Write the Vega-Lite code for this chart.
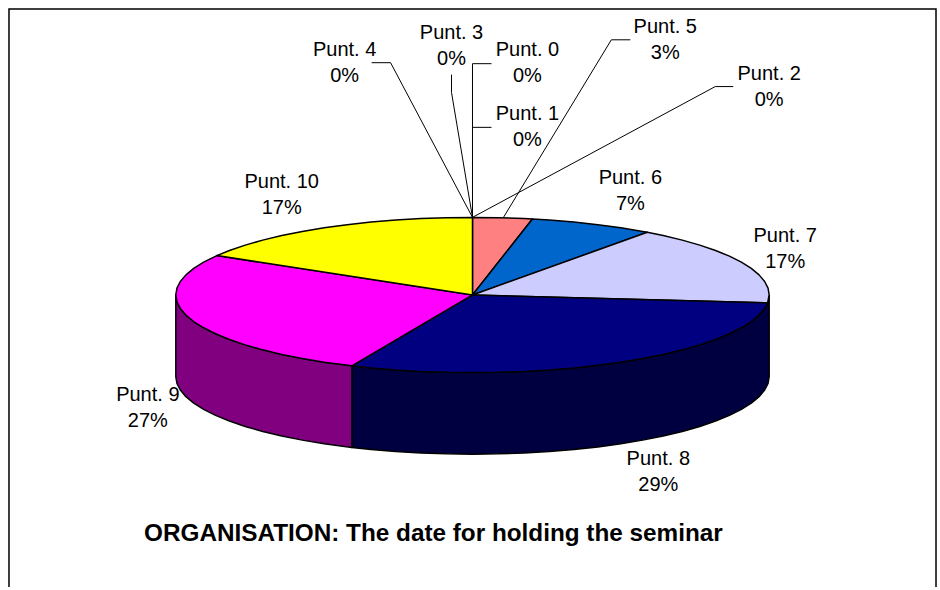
{"$schema":"https://vega.github.io/schema/vega-lite/v6.json","width":940,"height":590,"autosize":{"type":"fit","contains":"padding"},"padding":0,"background":"white","view":{"stroke":null},
"datasets":{
"shape":[
{"part":"Punt. 8 side","i":1,"x":1,"y":0},{"part":"Punt. 8 side","i":2,"x":0.9962,"y":-0.0229},{"part":"Punt. 8 side","i":3,"x":0.9848,"y":-0.0456},{"part":"Punt. 8 side","i":4,"x":0.9659,"y":-0.068},{"part":"Punt. 8 side","i":5,"x":0.9397,"y":-0.0898},{"part":"Punt. 8 side","i":6,"x":0.9063,"y":-0.111},{"part":"Punt. 8 side","i":7,"x":0.866,"y":-0.1313},{"part":"Punt. 8 side","i":8,"x":0.8192,"y":-0.1506},{"part":"Punt. 8 side","i":9,"x":0.766,"y":-0.1688},{"part":"Punt. 8 side","i":10,"x":0.7071,"y":-0.1857},{"part":"Punt. 8 side","i":11,"x":0.6428,"y":-0.2012},{"part":"Punt. 8 side","i":12,"x":0.5736,"y":-0.2151},{"part":"Punt. 8 side","i":13,"x":0.5,"y":-0.2274},{"part":"Punt. 8 side","i":14,"x":0.4226,"y":-0.238},{"part":"Punt. 8 side","i":15,"x":0.342,"y":-0.2468},{"part":"Punt. 8 side","i":16,"x":0.2588,"y":-0.2537},{"part":"Punt. 8 side","i":17,"x":0.1736,"y":-0.2586},{"part":"Punt. 8 side","i":18,"x":0.0872,"y":-0.2616},{"part":"Punt. 8 side","i":19,"x":0,"y":-0.2626},{"part":"Punt. 8 side","i":20,"x":-0.0872,"y":-0.2616},{"part":"Punt. 8 side","i":21,"x":-0.1736,"y":-0.2586},{"part":"Punt. 8 side","i":22,"x":-0.2588,"y":-0.2537},{"part":"Punt. 8 side","i":23,"x":-0.342,"y":-0.2468},{"part":"Punt. 8 side","i":24,"x":-0.4067,"y":-0.2399},
{"part":"Punt. 8 side","i":25,"x":-0.4067,"y":-0.516},{"part":"Punt. 8 side","i":26,"x":-0.342,"y":-0.5229},{"part":"Punt. 8 side","i":27,"x":-0.2588,"y":-0.5298},{"part":"Punt. 8 side","i":28,"x":-0.1736,"y":-0.5347},{"part":"Punt. 8 side","i":29,"x":-0.0872,"y":-0.5377},{"part":"Punt. 8 side","i":30,"x":0,"y":-0.5387},{"part":"Punt. 8 side","i":31,"x":0.0872,"y":-0.5377},{"part":"Punt. 8 side","i":32,"x":0.1736,"y":-0.5347},{"part":"Punt. 8 side","i":33,"x":0.2588,"y":-0.5298},{"part":"Punt. 8 side","i":34,"x":0.342,"y":-0.5229},{"part":"Punt. 8 side","i":35,"x":0.4226,"y":-0.5141},{"part":"Punt. 8 side","i":36,"x":0.5,"y":-0.5035},{"part":"Punt. 8 side","i":37,"x":0.5736,"y":-0.4912},{"part":"Punt. 8 side","i":38,"x":0.6428,"y":-0.4773},{"part":"Punt. 8 side","i":39,"x":0.7071,"y":-0.4618},{"part":"Punt. 8 side","i":40,"x":0.766,"y":-0.4449},{"part":"Punt. 8 side","i":41,"x":0.8192,"y":-0.4267},{"part":"Punt. 8 side","i":42,"x":0.866,"y":-0.4074},{"part":"Punt. 8 side","i":43,"x":0.9063,"y":-0.3871},{"part":"Punt. 8 side","i":44,"x":0.9397,"y":-0.3659},{"part":"Punt. 8 side","i":45,"x":0.9659,"y":-0.3441},{"part":"Punt. 8 side","i":46,"x":0.9848,"y":-0.3217},{"part":"Punt. 8 side","i":47,"x":0.9962,"y":-0.299},{"part":"Punt. 8 side","i":48,"x":1,"y":-0.2761},{"part":"Punt. 8 side","i":49,"x":1,"y":0},
{"part":"Punt. 9 side","i":1,"x":-0.4067,"y":-0.2399},{"part":"Punt. 9 side","i":2,"x":-0.5,"y":-0.2274},{"part":"Punt. 9 side","i":3,"x":-0.5736,"y":-0.2151},{"part":"Punt. 9 side","i":4,"x":-0.6428,"y":-0.2012},{"part":"Punt. 9 side","i":5,"x":-0.7071,"y":-0.1857},{"part":"Punt. 9 side","i":6,"x":-0.766,"y":-0.1688},{"part":"Punt. 9 side","i":7,"x":-0.8192,"y":-0.1506},{"part":"Punt. 9 side","i":8,"x":-0.866,"y":-0.1313},{"part":"Punt. 9 side","i":9,"x":-0.9063,"y":-0.111},{"part":"Punt. 9 side","i":10,"x":-0.9397,"y":-0.0898},{"part":"Punt. 9 side","i":11,"x":-0.9659,"y":-0.068},{"part":"Punt. 9 side","i":12,"x":-0.9848,"y":-0.0456},{"part":"Punt. 9 side","i":13,"x":-0.9962,"y":-0.0229},{"part":"Punt. 9 side","i":14,"x":-1,"y":0},
{"part":"Punt. 9 side","i":15,"x":-1,"y":-0.2761},{"part":"Punt. 9 side","i":16,"x":-0.9962,"y":-0.299},{"part":"Punt. 9 side","i":17,"x":-0.9848,"y":-0.3217},{"part":"Punt. 9 side","i":18,"x":-0.9659,"y":-0.3441},{"part":"Punt. 9 side","i":19,"x":-0.9397,"y":-0.3659},{"part":"Punt. 9 side","i":20,"x":-0.9063,"y":-0.3871},{"part":"Punt. 9 side","i":21,"x":-0.866,"y":-0.4074},{"part":"Punt. 9 side","i":22,"x":-0.8192,"y":-0.4267},{"part":"Punt. 9 side","i":23,"x":-0.766,"y":-0.4449},{"part":"Punt. 9 side","i":24,"x":-0.7071,"y":-0.4618},{"part":"Punt. 9 side","i":25,"x":-0.6428,"y":-0.4773},{"part":"Punt. 9 side","i":26,"x":-0.5736,"y":-0.4912},{"part":"Punt. 9 side","i":27,"x":-0.5,"y":-0.5035},{"part":"Punt. 9 side","i":28,"x":-0.4067,"y":-0.516},{"part":"Punt. 9 side","i":29,"x":-0.4067,"y":-0.2399},
{"part":"Punt. 5","i":1,"x":0,"y":0},{"part":"Punt. 5","i":2,"x":0,"y":0.2626},{"part":"Punt. 5","i":3,"x":0.0872,"y":0.2616},{"part":"Punt. 5","i":4,"x":0.1736,"y":0.2586},{"part":"Punt. 5","i":5,"x":0.2019,"y":0.2572},{"part":"Punt. 5","i":6,"x":0,"y":0},
{"part":"Punt. 6","i":1,"x":0,"y":0},{"part":"Punt. 6","i":2,"x":0.2019,"y":0.2572},{"part":"Punt. 6","i":3,"x":0.2588,"y":0.2537},{"part":"Punt. 6","i":4,"x":0.342,"y":0.2468},{"part":"Punt. 6","i":5,"x":0.4226,"y":0.238},{"part":"Punt. 6","i":6,"x":0.5,"y":0.2274},{"part":"Punt. 6","i":7,"x":0.5736,"y":0.2151},{"part":"Punt. 6","i":8,"x":0.5892,"y":0.2122},{"part":"Punt. 6","i":9,"x":0,"y":0},
{"part":"Punt. 7","i":1,"x":0,"y":0},{"part":"Punt. 7","i":2,"x":0.5892,"y":0.2122},{"part":"Punt. 7","i":3,"x":0.6428,"y":0.2012},{"part":"Punt. 7","i":4,"x":0.7071,"y":0.1857},{"part":"Punt. 7","i":5,"x":0.766,"y":0.1688},{"part":"Punt. 7","i":6,"x":0.8192,"y":0.1506},{"part":"Punt. 7","i":7,"x":0.866,"y":0.1313},{"part":"Punt. 7","i":8,"x":0.9063,"y":0.111},{"part":"Punt. 7","i":9,"x":0.9397,"y":0.0898},{"part":"Punt. 7","i":10,"x":0.9659,"y":0.068},{"part":"Punt. 7","i":11,"x":0.9848,"y":0.0456},{"part":"Punt. 7","i":12,"x":0.9962,"y":0.0229},{"part":"Punt. 7","i":13,"x":1,"y":0},{"part":"Punt. 7","i":14,"x":0.9947,"y":-0.027},{"part":"Punt. 7","i":15,"x":0,"y":0},
{"part":"Punt. 8","i":1,"x":0,"y":0},{"part":"Punt. 8","i":2,"x":0.9947,"y":-0.027},{"part":"Punt. 8","i":3,"x":0.9848,"y":-0.0456},{"part":"Punt. 8","i":4,"x":0.9659,"y":-0.068},{"part":"Punt. 8","i":5,"x":0.9397,"y":-0.0898},{"part":"Punt. 8","i":6,"x":0.9063,"y":-0.111},{"part":"Punt. 8","i":7,"x":0.866,"y":-0.1313},{"part":"Punt. 8","i":8,"x":0.8192,"y":-0.1506},{"part":"Punt. 8","i":9,"x":0.766,"y":-0.1688},{"part":"Punt. 8","i":10,"x":0.7071,"y":-0.1857},{"part":"Punt. 8","i":11,"x":0.6428,"y":-0.2012},{"part":"Punt. 8","i":12,"x":0.5736,"y":-0.2151},{"part":"Punt. 8","i":13,"x":0.5,"y":-0.2274},{"part":"Punt. 8","i":14,"x":0.4226,"y":-0.238},{"part":"Punt. 8","i":15,"x":0.342,"y":-0.2468},{"part":"Punt. 8","i":16,"x":0.2588,"y":-0.2537},{"part":"Punt. 8","i":17,"x":0.1736,"y":-0.2586},{"part":"Punt. 8","i":18,"x":0.0872,"y":-0.2616},{"part":"Punt. 8","i":19,"x":0,"y":-0.2626},{"part":"Punt. 8","i":20,"x":-0.0872,"y":-0.2616},{"part":"Punt. 8","i":21,"x":-0.1736,"y":-0.2586},{"part":"Punt. 8","i":22,"x":-0.2588,"y":-0.2537},{"part":"Punt. 8","i":23,"x":-0.342,"y":-0.2468},{"part":"Punt. 8","i":24,"x":-0.4067,"y":-0.2399},{"part":"Punt. 8","i":25,"x":0,"y":0},
{"part":"Punt. 9","i":1,"x":0,"y":0},{"part":"Punt. 9","i":2,"x":-0.4067,"y":-0.2399},{"part":"Punt. 9","i":3,"x":-0.5,"y":-0.2274},{"part":"Punt. 9","i":4,"x":-0.5736,"y":-0.2151},{"part":"Punt. 9","i":5,"x":-0.6428,"y":-0.2012},{"part":"Punt. 9","i":6,"x":-0.7071,"y":-0.1857},{"part":"Punt. 9","i":7,"x":-0.766,"y":-0.1688},{"part":"Punt. 9","i":8,"x":-0.8192,"y":-0.1506},{"part":"Punt. 9","i":9,"x":-0.866,"y":-0.1313},{"part":"Punt. 9","i":10,"x":-0.9063,"y":-0.111},{"part":"Punt. 9","i":11,"x":-0.9397,"y":-0.0898},{"part":"Punt. 9","i":12,"x":-0.9659,"y":-0.068},{"part":"Punt. 9","i":13,"x":-0.9848,"y":-0.0456},{"part":"Punt. 9","i":14,"x":-0.9962,"y":-0.0229},{"part":"Punt. 9","i":15,"x":-1,"y":0},{"part":"Punt. 9","i":16,"x":-0.9962,"y":0.0229},{"part":"Punt. 9","i":17,"x":-0.9848,"y":0.0456},{"part":"Punt. 9","i":18,"x":-0.9659,"y":0.068},{"part":"Punt. 9","i":19,"x":-0.9397,"y":0.0898},{"part":"Punt. 9","i":20,"x":-0.9063,"y":0.111},{"part":"Punt. 9","i":21,"x":-0.8616,"y":0.1333},{"part":"Punt. 9","i":22,"x":0,"y":0},
{"part":"Punt. 10","i":1,"x":0,"y":0},{"part":"Punt. 10","i":2,"x":-0.8616,"y":0.1333},{"part":"Punt. 10","i":3,"x":-0.8192,"y":0.1506},{"part":"Punt. 10","i":4,"x":-0.766,"y":0.1688},{"part":"Punt. 10","i":5,"x":-0.7071,"y":0.1857},{"part":"Punt. 10","i":6,"x":-0.6428,"y":0.2012},{"part":"Punt. 10","i":7,"x":-0.5736,"y":0.2151},{"part":"Punt. 10","i":8,"x":-0.5,"y":0.2274},{"part":"Punt. 10","i":9,"x":-0.4226,"y":0.238},{"part":"Punt. 10","i":10,"x":-0.342,"y":0.2468},{"part":"Punt. 10","i":11,"x":-0.2588,"y":0.2537},{"part":"Punt. 10","i":12,"x":-0.1736,"y":0.2586},{"part":"Punt. 10","i":13,"x":-0.0872,"y":0.2616},{"part":"Punt. 10","i":14,"x":0,"y":0.2626},{"part":"Punt. 10","i":15,"x":0,"y":0}
],
"frame":[{"id":"frame","i":1,"x":-1.5623,"y":-0.9883},{"id":"frame","i":2,"x":-1.5623,"y":0.968},{"id":"frame","i":3,"x":1.5623,"y":0.968},{"id":"frame","i":4,"x":1.5623,"y":-0.9883}],
"leaders":[
{"id":"Punt. 0","i":1,"x":0,"y":0.2626},{"id":"Punt. 0","i":2,"x":0,"y":0.7828},{"id":"Punt. 0","i":3,"x":0.064,"y":0.7828},
{"id":"Punt. 1","i":1,"x":0,"y":0.5673},{"id":"Punt. 1","i":2,"x":0.064,"y":0.5673},
{"id":"Punt. 2","i":1,"x":0,"y":0.2626},{"id":"Punt. 2","i":2,"x":0.8182,"y":0.7053},{"id":"Punt. 2","i":3,"x":0.8788,"y":0.7053},
{"id":"Punt. 3","i":1,"x":0,"y":0.2626},{"id":"Punt. 3","i":2,"x":-0.0707,"y":0.6851},{"id":"Punt. 3","i":3,"x":-0.0707,"y":0.7457},
{"id":"Punt. 4","i":1,"x":0,"y":0.2626},{"id":"Punt. 4","i":2,"x":-0.2761,"y":0.7861},{"id":"Punt. 4","i":3,"x":-0.3401,"y":0.7861},
{"id":"Punt. 5","i":1,"x":0.1044,"y":0.2626},{"id":"Punt. 5","i":2,"x":0.468,"y":0.8636},{"id":"Punt. 5","i":3,"x":0.532,"y":0.8636}
],
"labels":[
{"slice":"Punt. 0","share":0,"x":0.1852,"y":0.83},{"slice":"Punt. 1","share":0,"x":0.1852,"y":0.6112},{"slice":"Punt. 2","share":0,"x":1,"y":0.7492},{"slice":"Punt. 3","share":0,"x":-0.0707,"y":0.8873},{"slice":"Punt. 4","share":0,"x":-0.431,"y":0.83},{"slice":"Punt. 5","share":3,"x":0.6498,"y":0.9075},{"slice":"Punt. 6","share":7,"x":0.532,"y":0.3957},{"slice":"Punt. 7","share":17,"x":1.0539,"y":0.2004},{"slice":"Punt. 8","share":29,"x":0.6263,"y":-0.5538},{"slice":"Punt. 9","share":27,"x":-1.0943,"y":-0.3383},{"slice":"Punt. 10","share":17,"x":-0.6431,"y":0.3822}
]
},
"encoding":{
"x":{"field":"x","type":"quantitative","axis":null,"scale":{"domain":[-1.5926,1.5724],"nice":false,"zero":false}},
"y":{"field":"y","type":"quantitative","axis":null,"scale":{"domain":[-0.9883,0.9983],"nice":false,"zero":false}}
},
"layer":[
{"data":{"name":"frame"},"mark":{"type":"line","stroke":"#000000","strokeWidth":1.5},
"encoding":{"order":{"field":"i","type":"quantitative"}}},
{"data":{"name":"shape"},"mark":{"type":"line","filled":true,"stroke":"#000000","strokeWidth":1.5,"strokeJoin":"round","interpolate":"linear"},
"encoding":{"order":{"field":"i","type":"quantitative"},"color":{"field":"part","type":"nominal","legend":null,"scale":{"domain":["Punt. 8 side","Punt. 9 side","Punt. 5","Punt. 6","Punt. 7","Punt. 8","Punt. 9","Punt. 10"],"range":["#000040","#800080","#FF8080","#0066CC","#CCCCFF","#000080","#FF00FF","#FFFF00"]}}}},
{"data":{"name":"leaders"},"mark":{"type":"line","stroke":"#000000","strokeWidth":1},
"encoding":{"order":{"field":"i","type":"quantitative"},"detail":{"field":"id","type":"nominal"}}},
{"data":{"name":"labels"},"transform":[{"calculate":"datum.slice + '\\n' + datum.share + '%'","as":"label"}],"mark":{"type":"text","font":"Liberation Sans","fontSize":20,"lineBreak":"\n","lineHeight":26,"align":"center","baseline":"middle","color":"#000000"},
"encoding":{"text":{"field":"label","type":"nominal"}}},
{"data":{"values":[{"note":"ORGANISATION: The date for holding the seminar","x":-0.1317,"y":-0.8097}]},"mark":{"type":"text","font":"Liberation Sans","fontSize":24.3,"fontWeight":"bold","align":"center","baseline":"middle","color":"#000000"},
"encoding":{"text":{"field":"note","type":"nominal"}}}
]}
